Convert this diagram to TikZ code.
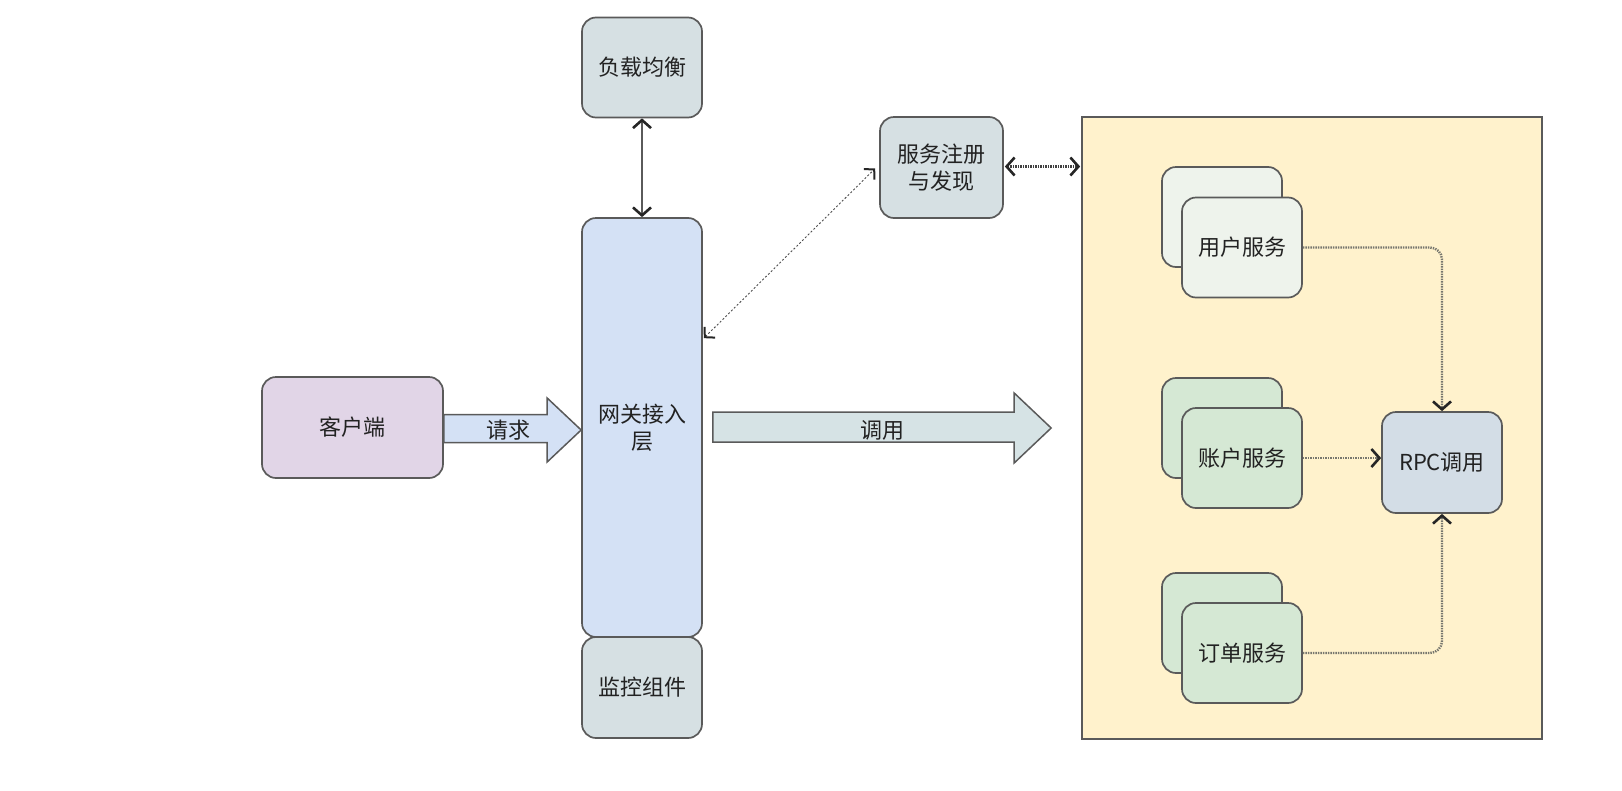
\documentclass[tikz,border=0pt]{standalone}
\usepackage{fontspec}
\setmainfont{Noto Sans CJK SC}
\usetikzlibrary{arrows.meta,calc}
\definecolor{bordc}{HTML}{5A5A5A}
\definecolor{grayc}{HTML}{D6E0E3}
\definecolor{gwc}{HTML}{D4E1F5}
\definecolor{clic}{HTML}{E1D5E7}
\definecolor{contc}{HTML}{FFF2CC}
\definecolor{userc}{HTML}{EEF3EC}
\definecolor{greenc}{HTML}{D5E8D4}
\definecolor{rpcc}{HTML}{D3DDE6}
\definecolor{callc}{HTML}{D6E3E5}
\definecolor{dotc}{HTML}{77776E}
\definecolor{textc}{HTML}{222222}
\tikzset{
  chev/.tip={Straight Barb[length=8pt,width=18pt,line width=2.6pt,color=black!85]},
  smallchev/.tip={Straight Barb[length=7pt,width=15pt,line width=2pt,color=black!85]}
}
\begin{document}
\begin{tikzpicture}[x=1pt,y=-1pt,
  box/.style={draw=bordc, line width=1.7pt, rounded corners=14pt, inner sep=0pt, text=textc,
    font=\fontsize{22}{27}\selectfont, align=center, minimum width=120pt, minimum height=100pt},
  dotline/.style={draw=dotc, line width=2.4pt, dash pattern=on 1.4pt off 1.1pt},
  blockarrow/.style={draw=bordc, line width=1.5pt, line join=miter},
  lbl/.style={font=\fontsize{22}{27}\selectfont, inner sep=0pt, text=textc}]
\useasboundingbox (0,0) rectangle (1622,790);

% container
\node[draw=bordc, line width=1.7pt, fill=contc, minimum width=460pt, minimum height=622pt, inner sep=0pt] (cont) at (1312,428) {};

% left column
\node[box, fill=grayc] (lb) at (642,67.5) {负载均衡};
\node[box, fill=grayc, minimum width=123pt, minimum height=101pt] (reg) at (941.5,167.5) {服务注册\\与发现};
\node[box, fill=gwc, minimum height=419pt] (gw) at (642,427.5) {网关接入\\层};
\node[box, fill=grayc, minimum height=101pt] (mon) at (642,687.5) {监控组件};
\node[box, fill=clic, minimum width=181pt, minimum height=101pt] (cli) at (352.5,427.5) {客户端};

% services
\node[box, fill=userc] (userb) at (1222,217) {};
\node[box, fill=userc] (user) at (1242,247.5) {用户服务};
\node[box, fill=greenc] (acctb) at (1222,428) {};
\node[box, fill=greenc] (acct) at (1242,458) {账户服务};
\node[box, fill=greenc] (ordb) at (1222,623) {};
\node[box, fill=greenc] (ord) at (1242,653) {订单服务};
\node[box, fill=rpcc, minimum height=101pt] (rpc) at (1442,462.5) {RPC调用};

% block arrow: request
\coordinate (rq0) at ($(cli.east)+(0,-13)$);
\coordinate (rq1) at ($(cli.east)+(0,15)$);
\coordinate (rqt) at ($(gw.west)+(0,2.5)$);
\draw[blockarrow, fill=gwc]
  (rq0) -- ($(rqt)+(-34,-15.5)$) -- ($(rqt)+(-34,-32)$) -- (rqt)
  -- ($(rqt)+(-34,32)$) -- ($(rqt)+(-34,12.5)$) -- (rq1) -- cycle;
\node[lbl] (rqlbl) at (508,430) {请求};

% block arrow: call
\coordinate (ca0) at ($(gw.east)+(10,-15.5)$);
\coordinate (ca1) at ($(gw.east)+(10,14.5)$);
\coordinate (cat) at ($(cont.west)+(-30,0)$);
\draw[blockarrow, fill=callc]
  (ca0) -- ($(cat)+(-37,-16)$) -- ($(cat)+(-37,-35)$) -- (cat)
  -- ($(cat)+(-37,35)$) -- ($(cat)+(-37,14)$) -- (ca1) -- cycle;
\node[lbl] (calbl) at (882,430) {调用};

% connectors
\draw[draw=bordc, line width=1.8pt, {chev}-{chev}] (lb.south) -- (gw.north);
\draw[draw=black!70, line width=0.9pt, dash pattern=on 2pt off 2pt, {smallchev}-{smallchev}]
  ($(gw.north east)+(1,121)$) -- ($(reg.west)+(-4,1)$);
\draw[dotline, draw=black!75, {chev}-{chev}] ($(reg.east)+(1,-1)$) -- ($(reg.east -| cont.west)+(-1,-1)$);
\draw[dotline, rounded corners=12pt, -{chev}] (user.east) -| (rpc.north);
\draw[dotline, -{chev}] (acct.east) -- (acct.east -| rpc.west);
\draw[dotline, rounded corners=12pt, -{chev}] (ord.east) -| (rpc.south);
\end{tikzpicture}
\end{document}
